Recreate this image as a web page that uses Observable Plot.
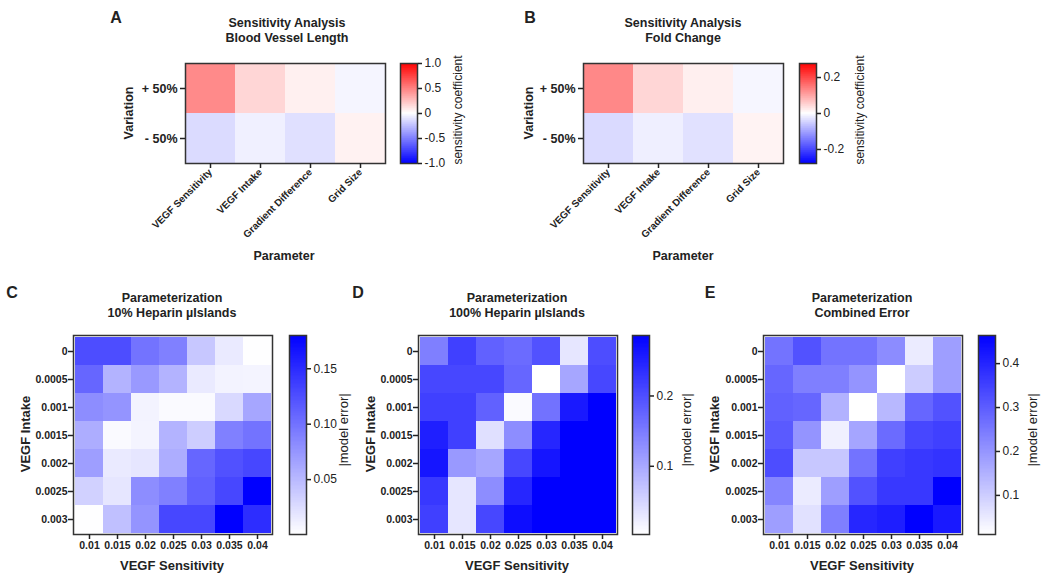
<!DOCTYPE html>
<html><head><meta charset="utf-8">
<script src="https://cdn.jsdelivr.net/npm/d3@7"></script>
<script src="https://cdn.jsdelivr.net/npm/@observablehq/plot@0.6"></script>
<style>
body{margin:0;background:#fff;}
#fig{position:relative;width:1050px;height:579px;overflow:hidden;font-family:"Liberation Sans",Arial,sans-serif;color:#222;background:#fff;}
.lbl{position:absolute;white-space:nowrap;transform:translate(-50%,-50%);line-height:1;}
.rot{transform:translate(-50%,-50%) rotate(-90deg);}
svg{overflow:visible;}
</style></head><body><div id="fig"></div>
<script>
// ---------- data ----------
const parameters = ["VEGF Sensitivity", "VEGF Intake", "Gradient Difference", "Grid Size"];
const variations = ["+ 50%", "- 50%"];
const lengthPlus  = [0.46, 0.16, 0.06, -0.04];
const lengthMinus = [-0.14, -0.06, -0.12, 0.05];
const foldPlus    = [0.13, 0.045, 0.017, -0.01];
const foldMinus   = [-0.04, -0.017, -0.033, 0.013];

const sensitivity = ["0.01", "0.015", "0.02", "0.025", "0.03", "0.035", "0.04"];
const intake = ["0", "0.0005", "0.001", "0.0015", "0.002", "0.0025", "0.003"];

const error10 = [
  [0.126, 0.126, 0.099, 0.090, 0.040, 0.015, 0.001],
  [0.108, 0.054, 0.072, 0.054, 0.015, 0.009, 0.008],
  [0.081, 0.076, 0.009, 0.004, 0.004, 0.027, 0.063],
  [0.058, 0.004, 0.008, 0.054, 0.036, 0.090, 0.099],
  [0.069, 0.015, 0.018, 0.058, 0.108, 0.123, 0.130],
  [0.033, 0.018, 0.081, 0.090, 0.112, 0.130, 0.180],
  [0.001, 0.045, 0.076, 0.130, 0.130, 0.180, 0.148]
];
const error100 = [
  [0.145, 0.215, 0.178, 0.167, 0.195, 0.031, 0.201],
  [0.207, 0.207, 0.207, 0.173, 0.003, 0.102, 0.207],
  [0.215, 0.215, 0.178, 0.009, 0.159, 0.258, 0.286],
  [0.252, 0.215, 0.037, 0.130, 0.244, 0.286, 0.286],
  [0.263, 0.116, 0.102, 0.207, 0.263, 0.286, 0.286],
  [0.224, 0.031, 0.130, 0.244, 0.286, 0.286, 0.286],
  [0.215, 0.031, 0.207, 0.272, 0.286, 0.286, 0.286]
];
const errorCombined = [
  [0.260, 0.319, 0.260, 0.260, 0.215, 0.047, 0.183],
  [0.283, 0.238, 0.238, 0.201, 0.011, 0.102, 0.183],
  [0.292, 0.283, 0.147, 0.011, 0.138, 0.283, 0.319],
  [0.305, 0.201, 0.038, 0.170, 0.274, 0.337, 0.351],
  [0.328, 0.111, 0.111, 0.260, 0.351, 0.364, 0.373],
  [0.228, 0.047, 0.183, 0.319, 0.364, 0.364, 0.464],
  [0.183, 0.065, 0.238, 0.396, 0.410, 0.464, 0.419]
];

// colour-bar ranges and ticks
const rangeA = [-1, 1],        ticksA = [-1, -0.5, 0, 0.5, 1];
const rangeB = [-0.278, 0.278], ticksB = [-0.2, 0, 0.2];
const rangeC = [0.0005, 0.18], ticksC = [0.05, 0.10, 0.15];
const rangeD = [0.003, 0.286], ticksD = [0.1, 0.2];
const rangeE = [0.011, 0.464], ticksE = [0.1, 0.2, 0.3, 0.4];

// ---------- helpers ----------
const fig = document.getElementById("fig");
const FONT = "'Liberation Sans', Arial, sans-serif";

function table(rows, ys, xs) {
  const out = [];
  rows.forEach((r, i) => r.forEach((v, j) => out.push({x: xs[j], y: ys[i], v})));
  return out;
}
function place(el, left, top) {
  el.style.position = "absolute";
  el.style.left = left + "px";
  el.style.top = top + "px";
  fig.appendChild(el);
}
function label(text, x, y, {size = 12.5, weight = "bold", rotate = false} = {}) {
  const d = document.createElement("div");
  d.className = "lbl" + (rotate ? " rot" : "");
  d.textContent = text;
  d.style.left = x + "px";
  d.style.top = y + "px";
  d.style.fontSize = size + "px";
  d.style.fontWeight = weight;
  fig.appendChild(d);
}
function divergingColor(dom) {
  return {type: "linear", domain: [dom[0], 0, dom[1]], range: ["#0000ff", "#ffffff", "#ff0000"], interpolate: "rgb", clamp: true};
}
function blueColor(dom) {
  return {type: "linear", domain: dom, range: ["#ffffff", "#0000ff"], interpolate: "rgb", clamp: true};
}
function heat({left, top, w, h, xs, ys, data, color, xRotate = 0, xFont, yFont, ml, mb, pad = 3}) {
  const mr = 10, mt = 6;
  const p = Plot.plot({
    width: ml + w + mr, height: mt + h + mb,
    marginLeft: ml, marginRight: mr, marginTop: mt, marginBottom: mb,
    x: {domain: xs, padding: 0, label: null},
    y: {domain: ys, padding: 0, label: null},
    color,
    style: {fontFamily: FONT, fontWeight: "bold", color: "#222", background: "transparent"},
    marks: [
      Plot.cell(data, {x: "x", y: "y", fill: "v", shapeRendering: "crispEdges"}),
      Plot.frame({stroke: "#333", strokeWidth: 1.5}),
      Plot.axisX({tickSize: 5, tickPadding: 2, fontSize: xFont, tickRotate: xRotate, strokeWidth: 1.5, label: null}),
      Plot.axisY({tickSize: 5, tickPadding: pad, fontSize: yFont, strokeWidth: 1.5, label: null})
    ]
  });
  place(p, left - ml, top - mt);
}
function colorbar({left, top, w, h, dom, color, ticks, fmt}) {
  const n = 150;
  const steps = d3.range(n).map(i => ({a: dom[0] + (dom[1] - dom[0]) * i / n, b: dom[0] + (dom[1] - dom[0]) * (i + 1) / n}));
  const p = Plot.plot({
    width: w + 42, height: h + 2,
    marginLeft: 1, marginRight: 41, marginTop: 1, marginBottom: 1,
    x: {domain: [0, 1], axis: null},
    y: {domain: dom, label: null},
    color,
    style: {fontFamily: FONT, color: "#222", background: "transparent"},
    marks: [
      Plot.rect(steps, {x1: 0, x2: 1, y1: "a", y2: "b", fill: d => (d.a + d.b) / 2, shapeRendering: "crispEdges"}),
      Plot.frame({stroke: "#333", strokeWidth: 1.5}),
      Plot.axisY({anchor: "right", ticks, tickFormat: fmt, tickSize: 4, tickPadding: 3, fontSize: 12, strokeWidth: 1.5, label: null})
    ]
  });
  place(p, left - 1, top - 1);
}
const fmtA = d => d === 0 ? "0" : d.toFixed(1);

// ---------- Panel A ----------
label("A", 116, 18, {size: 16});
label("Sensitivity Analysis", 287, 23);
label("Blood Vessel Length", 287, 38);
heat({left: 185, top: 63, w: 200, h: 100, xs: parameters, ys: variations,
  data: table([lengthPlus, lengthMinus], variations, parameters),
  color: divergingColor(rangeA), xRotate: -45, xFont: 10, yFont: 12.5, ml: 70, mb: 110});
colorbar({left: 400, top: 63, w: 17, h: 100, dom: rangeA, color: divergingColor(rangeA), ticks: ticksA, fmt: fmtA});
label("Variation", 129, 113, {rotate: true});
label("Parameter", 284, 256);
label("sensitivity coefficient", 458, 110, {size: 12, weight: "normal", rotate: true});

// ---------- Panel B ----------
label("B", 530, 18, {size: 16});
label("Sensitivity Analysis", 683, 23);
label("Fold Change", 683, 38);
heat({left: 583, top: 63, w: 200, h: 100, xs: parameters, ys: variations,
  data: table([foldPlus, foldMinus], variations, parameters),
  color: divergingColor(rangeB), xRotate: -45, xFont: 10, yFont: 12.5, ml: 70, mb: 110});
colorbar({left: 799, top: 63, w: 17, h: 100, dom: rangeB, color: divergingColor(rangeB), ticks: ticksB, fmt: fmtA});
label("Variation", 529, 113, {rotate: true});
label("Parameter", 683, 256);
label("sensitivity coefficient", 860, 110, {size: 12, weight: "normal", rotate: true});

// ---------- Panels C, D, E ----------
const lower = [
  {letter: "C", lx: 12, sub: "10% Heparin µIslands", left: 73, cx: 172, bar: 289, ylab: 25, clab: 343, m: error10, dom: rangeC, ticks: ticksC, fmt: d => d.toFixed(2)},
  {letter: "D", lx: 358, sub: "100% Heparin µIslands", left: 418, cx: 517, bar: 632, ylab: 370, clab: 686, m: error100, dom: rangeD, ticks: ticksD, fmt: d => d.toFixed(1)},
  {letter: "E", lx: 710, sub: "Combined Error", left: 763, cx: 862, bar: 978, ylab: 714, clab: 1032, m: errorCombined, dom: rangeE, ticks: ticksE, fmt: d => d.toFixed(1)}
];
for (const P of lower) {
  label(P.letter, P.lx, 293, {size: 16});
  label("Parameterization", P.cx, 298);
  label(P.sub, P.cx, 313);
  heat({left: P.left, top: 335, w: 199, h: 199, xs: sensitivity, ys: intake,
    data: table(P.m, intake, sensitivity), color: blueColor(P.dom), xFont: 10.5, yFont: 10.5, ml: 50, mb: 30, pad: 1});
  colorbar({left: P.bar, top: 335, w: 17, h: 199, dom: P.dom, color: blueColor(P.dom), ticks: P.ticks, fmt: P.fmt});
  label("VEGF Intake", P.ylab, 434, {size: 13, rotate: true});
  label("VEGF Sensitivity", P.cx, 565, {size: 13});
  label("|model error|", P.clab, 430, {size: 13, weight: "normal", rotate: true});
}
</script></body></html>
